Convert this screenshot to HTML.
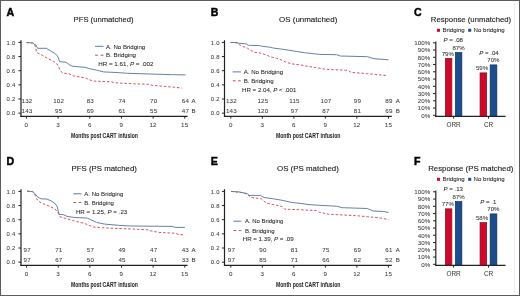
<!DOCTYPE html>
<html><head><meta charset="utf-8"><style>
html,body{margin:0;padding:0;background:#fff;}
.wrap{position:relative;width:520px;height:296px;overflow:hidden;background:#fff;}
svg{position:absolute;left:0;top:0;filter:blur(0.4px);}
text{stroke:#2a2a2a;stroke-width:0.06px;}
.ttl{stroke:#1a1a1a;stroke-width:0.12px;}
.plab{stroke:#000;stroke-width:0.45px;}
</style></head><body><div class="wrap">
<svg width="520" height="296" viewBox="0 0 520 296" font-family="Liberation Sans, sans-serif">
<rect x="0.5" y="0.5" width="519" height="295" fill="#fff" stroke="#5c5c5c" stroke-width="1"/>
<line x1="514.5" y1="1" x2="514.5" y2="295" stroke="#eeeeee" stroke-width="1"/>
<text x="6.5" y="15.6" font-size="10.6" text-anchor="start" font-weight="bold" fill="#000" class="plab">A</text>
<text x="73.6" y="22.0" font-size="8.1" text-anchor="start" font-weight="normal" fill="#1a1a1a" class="ttl" textLength="60" lengthAdjust="spacingAndGlyphs">PFS (unmatched)</text>
<line x1="21.0" y1="40.2" x2="21.0" y2="117.0" stroke="#222" stroke-width="1.2" />
<line x1="20.4" y1="116.3" x2="187.6" y2="116.3" stroke="#222" stroke-width="1.15" />
<line x1="18.4" y1="42.4" x2="21.0" y2="42.4" stroke="#222" stroke-width="1.0" />
<text x="15.7" y="44.5" font-size="5.9" text-anchor="end" font-weight="normal" fill="#444" letter-spacing="0.3">1.0</text>
<line x1="18.4" y1="56.55" x2="21.0" y2="56.55" stroke="#222" stroke-width="1.0" />
<text x="15.7" y="58.65" font-size="5.9" text-anchor="end" font-weight="normal" fill="#444" letter-spacing="0.3">0.8</text>
<line x1="18.4" y1="70.7" x2="21.0" y2="70.7" stroke="#222" stroke-width="1.0" />
<text x="15.7" y="72.8" font-size="5.9" text-anchor="end" font-weight="normal" fill="#444" letter-spacing="0.3">0.6</text>
<line x1="18.4" y1="84.85" x2="21.0" y2="84.85" stroke="#222" stroke-width="1.0" />
<text x="15.7" y="86.94999999999999" font-size="5.9" text-anchor="end" font-weight="normal" fill="#444" letter-spacing="0.3">0.4</text>
<line x1="18.4" y1="99.0" x2="21.0" y2="99.0" stroke="#222" stroke-width="1.0" />
<text x="15.7" y="101.1" font-size="5.9" text-anchor="end" font-weight="normal" fill="#444" letter-spacing="0.3">0.2</text>
<line x1="18.4" y1="113.15" x2="21.0" y2="113.15" stroke="#222" stroke-width="1.0" />
<text x="15.7" y="115.25" font-size="5.9" text-anchor="end" font-weight="normal" fill="#444" letter-spacing="0.3">0.0</text>
<line x1="26.4" y1="116.3" x2="26.4" y2="118.6" stroke="#222" stroke-width="1.0" />
<text x="26.4" y="126.8" font-size="6.2" text-anchor="middle" font-weight="normal" fill="#444" letter-spacing="0.3">0</text>
<line x1="58.08" y1="116.3" x2="58.08" y2="118.6" stroke="#222" stroke-width="1.0" />
<text x="58.08" y="126.8" font-size="6.2" text-anchor="middle" font-weight="normal" fill="#444" letter-spacing="0.3">3</text>
<line x1="89.75999999999999" y1="116.3" x2="89.75999999999999" y2="118.6" stroke="#222" stroke-width="1.0" />
<text x="89.75999999999999" y="126.8" font-size="6.2" text-anchor="middle" font-weight="normal" fill="#444" letter-spacing="0.3">6</text>
<line x1="121.44" y1="116.3" x2="121.44" y2="118.6" stroke="#222" stroke-width="1.0" />
<text x="121.44" y="126.8" font-size="6.2" text-anchor="middle" font-weight="normal" fill="#444" letter-spacing="0.3">9</text>
<line x1="153.12" y1="116.3" x2="153.12" y2="118.6" stroke="#222" stroke-width="1.0" />
<text x="153.12" y="126.8" font-size="6.2" text-anchor="middle" font-weight="normal" fill="#444" letter-spacing="0.3">12</text>
<line x1="184.8" y1="116.3" x2="184.8" y2="118.6" stroke="#222" stroke-width="1.0" />
<text x="184.8" y="126.8" font-size="6.2" text-anchor="middle" font-weight="normal" fill="#444" letter-spacing="0.3">15</text>
<text x="71" y="138.3" font-size="8.1" text-anchor="start" font-weight="bold" fill="#2a2a2a" textLength="66.9" lengthAdjust="spacingAndGlyphs">Months post CART infusion</text>
<text x="27.0" y="103.2" font-size="6.2" text-anchor="middle" font-weight="normal" fill="#444" letter-spacing="0.2">132</text>
<text x="58.68" y="103.2" font-size="6.2" text-anchor="middle" font-weight="normal" fill="#444" letter-spacing="0.2">102</text>
<text x="90.35999999999999" y="103.2" font-size="6.2" text-anchor="middle" font-weight="normal" fill="#444" letter-spacing="0.2">83</text>
<text x="122.03999999999999" y="103.2" font-size="6.2" text-anchor="middle" font-weight="normal" fill="#444" letter-spacing="0.2">74</text>
<text x="153.72" y="103.2" font-size="6.2" text-anchor="middle" font-weight="normal" fill="#444" letter-spacing="0.2">70</text>
<text x="185.4" y="103.2" font-size="6.2" text-anchor="middle" font-weight="normal" fill="#444" letter-spacing="0.2">64</text>
<text x="191.5" y="103.2" font-size="6" text-anchor="start" font-weight="normal" fill="#333" >A</text>
<text x="27.0" y="113.2" font-size="6.2" text-anchor="middle" font-weight="normal" fill="#444" letter-spacing="0.2">143</text>
<text x="58.68" y="113.2" font-size="6.2" text-anchor="middle" font-weight="normal" fill="#444" letter-spacing="0.2">95</text>
<text x="90.35999999999999" y="113.2" font-size="6.2" text-anchor="middle" font-weight="normal" fill="#444" letter-spacing="0.2">69</text>
<text x="122.03999999999999" y="113.2" font-size="6.2" text-anchor="middle" font-weight="normal" fill="#444" letter-spacing="0.2">61</text>
<text x="153.72" y="113.2" font-size="6.2" text-anchor="middle" font-weight="normal" fill="#444" letter-spacing="0.2">55</text>
<text x="185.4" y="113.2" font-size="6.2" text-anchor="middle" font-weight="normal" fill="#444" letter-spacing="0.2">47</text>
<text x="191.5" y="113.2" font-size="6" text-anchor="start" font-weight="normal" fill="#333" >B</text>
<line x1="95.1" y1="46.3" x2="103.5" y2="46.3" stroke="#5d7b9c" stroke-width="1.0" />
<text x="106.0" y="48.5" font-size="6.2" text-anchor="start" font-weight="normal" fill="#262626" textLength="39.2" lengthAdjust="spacingAndGlyphs">A. No Bridging</text>
<line x1="95.1" y1="55.2" x2="103.5" y2="55.2" stroke="#cc4d5e" stroke-width="1.0" stroke-dasharray="3,2.4"/>
<text x="106.0" y="57.2" font-size="6.2" text-anchor="start" font-weight="normal" fill="#262626" textLength="30.0" lengthAdjust="spacingAndGlyphs">B. Bridging</text>
<text x="98.2" y="66.0" font-size="6.2" fill="#262626" textLength="55.2" lengthAdjust="spacingAndGlyphs"><tspan>HR = 1.61, </tspan><tspan font-style="italic">P</tspan><tspan> = .002</tspan></text>
<path d="M26.5,42.6 L32.6,42.9 L34.6,44.5 L35.8,48.0 L36.6,52.5 L42.2,55.2 L47.3,58.3 L53.4,61.3 L56.9,63.8 L58.5,66.5 L60.6,71.2 L63.1,73.1 L69.2,73.8 L73.3,75.8 L80.4,77.1 L85.4,77.8 L89.5,79.8 L93.5,81.1 L110.1,81.7 L115.2,82.7 L123.3,83.3 L134.5,83.8 L148.7,84.3 L152.1,85.3 L165.3,86.5 L175.4,87.3 L182.0,88.1" fill="none" stroke="#cc4d5e" stroke-width="0.95" stroke-linejoin="round" stroke-dasharray="2.6,1.8"/>
<path d="M26.5,42.6 L32.8,42.9 L34.2,44.2 L36.2,45.3 L37.6,48.3 L46.3,48.3 L50.3,50.7 L54.4,53.2 L57.4,55.7 L58.3,58.0 L59.6,61.6 L66.2,62.3 L69.2,64.6 L72.2,66.2 L85.4,67.4 L89.5,68.7 L97.6,70.4 L103.7,71.9 L118.3,72.6 L127.4,73.3 L153.1,74.1 L172.4,74.7 L185.6,74.9" fill="none" stroke="#5d7b9c" stroke-width="0.95" stroke-linejoin="round"/>
<text x="210.7" y="15.6" font-size="10.6" text-anchor="start" font-weight="bold" fill="#000" class="plab">B</text>
<text x="279.1" y="22.0" font-size="8.1" text-anchor="start" font-weight="normal" fill="#1a1a1a" class="ttl" textLength="58.2" lengthAdjust="spacingAndGlyphs">OS (unmatched)</text>
<line x1="224.5" y1="40.2" x2="224.5" y2="117.0" stroke="#222" stroke-width="1.2" />
<line x1="223.9" y1="116.3" x2="391.79999999999995" y2="116.3" stroke="#222" stroke-width="1.15" />
<line x1="221.9" y1="42.4" x2="224.5" y2="42.4" stroke="#222" stroke-width="1.0" />
<text x="219.89999999999998" y="44.5" font-size="5.9" text-anchor="end" font-weight="normal" fill="#444" letter-spacing="0.3">1.0</text>
<line x1="221.9" y1="56.55" x2="224.5" y2="56.55" stroke="#222" stroke-width="1.0" />
<text x="219.89999999999998" y="58.65" font-size="5.9" text-anchor="end" font-weight="normal" fill="#444" letter-spacing="0.3">0.8</text>
<line x1="221.9" y1="70.7" x2="224.5" y2="70.7" stroke="#222" stroke-width="1.0" />
<text x="219.89999999999998" y="72.8" font-size="5.9" text-anchor="end" font-weight="normal" fill="#444" letter-spacing="0.3">0.6</text>
<line x1="221.9" y1="84.85" x2="224.5" y2="84.85" stroke="#222" stroke-width="1.0" />
<text x="219.89999999999998" y="86.94999999999999" font-size="5.9" text-anchor="end" font-weight="normal" fill="#444" letter-spacing="0.3">0.4</text>
<line x1="221.9" y1="99.0" x2="224.5" y2="99.0" stroke="#222" stroke-width="1.0" />
<text x="219.89999999999998" y="101.1" font-size="5.9" text-anchor="end" font-weight="normal" fill="#444" letter-spacing="0.3">0.2</text>
<line x1="221.9" y1="113.15" x2="224.5" y2="113.15" stroke="#222" stroke-width="1.0" />
<text x="219.89999999999998" y="115.25" font-size="5.9" text-anchor="end" font-weight="normal" fill="#444" letter-spacing="0.3">0.0</text>
<line x1="230.8" y1="116.3" x2="230.8" y2="118.6" stroke="#222" stroke-width="1.0" />
<text x="230.8" y="126.8" font-size="6.2" text-anchor="middle" font-weight="normal" fill="#444" letter-spacing="0.3">0</text>
<line x1="262.32" y1="116.3" x2="262.32" y2="118.6" stroke="#222" stroke-width="1.0" />
<text x="262.32" y="126.8" font-size="6.2" text-anchor="middle" font-weight="normal" fill="#444" letter-spacing="0.3">3</text>
<line x1="293.84000000000003" y1="116.3" x2="293.84000000000003" y2="118.6" stroke="#222" stroke-width="1.0" />
<text x="293.84000000000003" y="126.8" font-size="6.2" text-anchor="middle" font-weight="normal" fill="#444" letter-spacing="0.3">6</text>
<line x1="325.36" y1="116.3" x2="325.36" y2="118.6" stroke="#222" stroke-width="1.0" />
<text x="325.36" y="126.8" font-size="6.2" text-anchor="middle" font-weight="normal" fill="#444" letter-spacing="0.3">9</text>
<line x1="356.88" y1="116.3" x2="356.88" y2="118.6" stroke="#222" stroke-width="1.0" />
<text x="356.88" y="126.8" font-size="6.2" text-anchor="middle" font-weight="normal" fill="#444" letter-spacing="0.3">12</text>
<line x1="388.4" y1="116.3" x2="388.4" y2="118.6" stroke="#222" stroke-width="1.0" />
<text x="388.4" y="126.8" font-size="6.2" text-anchor="middle" font-weight="normal" fill="#444" letter-spacing="0.3">15</text>
<text x="275.9" y="138.3" font-size="8.1" text-anchor="start" font-weight="bold" fill="#2a2a2a" textLength="64.5" lengthAdjust="spacingAndGlyphs">Month post CART infusion</text>
<text x="231.4" y="103.2" font-size="6.2" text-anchor="middle" font-weight="normal" fill="#444" letter-spacing="0.2">132</text>
<text x="262.92" y="103.2" font-size="6.2" text-anchor="middle" font-weight="normal" fill="#444" letter-spacing="0.2">125</text>
<text x="294.44000000000005" y="103.2" font-size="6.2" text-anchor="middle" font-weight="normal" fill="#444" letter-spacing="0.2">115</text>
<text x="325.96000000000004" y="103.2" font-size="6.2" text-anchor="middle" font-weight="normal" fill="#444" letter-spacing="0.2">107</text>
<text x="357.48" y="103.2" font-size="6.2" text-anchor="middle" font-weight="normal" fill="#444" letter-spacing="0.2">99</text>
<text x="389.0" y="103.2" font-size="6.2" text-anchor="middle" font-weight="normal" fill="#444" letter-spacing="0.2">89</text>
<text x="395.7" y="103.2" font-size="6" text-anchor="start" font-weight="normal" fill="#333" >A</text>
<text x="231.4" y="113.2" font-size="6.2" text-anchor="middle" font-weight="normal" fill="#444" letter-spacing="0.2">143</text>
<text x="262.92" y="113.2" font-size="6.2" text-anchor="middle" font-weight="normal" fill="#444" letter-spacing="0.2">120</text>
<text x="294.44000000000005" y="113.2" font-size="6.2" text-anchor="middle" font-weight="normal" fill="#444" letter-spacing="0.2">97</text>
<text x="325.96000000000004" y="113.2" font-size="6.2" text-anchor="middle" font-weight="normal" fill="#444" letter-spacing="0.2">87</text>
<text x="357.48" y="113.2" font-size="6.2" text-anchor="middle" font-weight="normal" fill="#444" letter-spacing="0.2">81</text>
<text x="389.0" y="113.2" font-size="6.2" text-anchor="middle" font-weight="normal" fill="#444" letter-spacing="0.2">69</text>
<text x="395.7" y="113.2" font-size="6" text-anchor="start" font-weight="normal" fill="#333" >B</text>
<line x1="232.7" y1="71.89999999999999" x2="240.8" y2="71.89999999999999" stroke="#5d7b9c" stroke-width="1.0" />
<text x="243.7" y="74.1" font-size="6.2" text-anchor="start" font-weight="normal" fill="#262626" textLength="39.4" lengthAdjust="spacingAndGlyphs">A. No Bridging</text>
<line x1="232.7" y1="80.8" x2="240.8" y2="80.8" stroke="#cc4d5e" stroke-width="1.0" stroke-dasharray="3,2.4"/>
<text x="243.7" y="82.8" font-size="6.2" text-anchor="start" font-weight="normal" fill="#262626" textLength="30.0" lengthAdjust="spacingAndGlyphs">B. Bridging</text>
<text x="242.0" y="91.6" font-size="6.2" fill="#262626" textLength="54.4" lengthAdjust="spacingAndGlyphs"><tspan>HR = 2.04, </tspan><tspan font-style="italic">P</tspan><tspan> &lt; .001</tspan></text>
<path d="M230.5,42.4 L237.1,42.9 L239.2,44.6 L243.2,46.6 L247.3,48.1 L250.3,50.2 L254.4,52.2 L258.4,52.7 L262.5,53.7 L266.5,55.2 L270.6,56.8 L276.7,58.3 L281.1,59.8 L285.1,61.8 L291.2,63.8 L299.3,64.8 L309.5,66.6 L317.6,67.9 L325.0,69.2 L348.0,70.4 L351.0,72.3 L367.3,73.7 L387.5,75.6" fill="none" stroke="#cc4d5e" stroke-width="0.95" stroke-linejoin="round" stroke-dasharray="2.6,1.8"/>
<path d="M230.5,42.4 L237.1,42.5 L238.1,43.1 L246.3,43.9 L248.3,45.3 L259.4,45.6 L262.5,46.3 L270.6,47.3 L273.6,48.1 L280.1,48.9 L288.2,50.1 L296.3,51.4 L304.4,52.7 L313.5,53.7 L319.6,54.4 L336.5,54.7 L340.4,56.0 L367.3,56.7 L374.0,58.7 L388.5,59.8" fill="none" stroke="#5d7b9c" stroke-width="0.95" stroke-linejoin="round"/>
<text x="6.5" y="164.6" font-size="10.6" text-anchor="start" font-weight="bold" fill="#000" class="plab">D</text>
<text x="71.6" y="171.0" font-size="8.1" text-anchor="start" font-weight="normal" fill="#1a1a1a" class="ttl" textLength="65.3" lengthAdjust="spacingAndGlyphs">PFS (PS matched)</text>
<line x1="21.0" y1="189.2" x2="21.0" y2="266.0" stroke="#222" stroke-width="1.2" />
<line x1="20.4" y1="265.3" x2="187.6" y2="265.3" stroke="#222" stroke-width="1.15" />
<line x1="18.4" y1="191.4" x2="21.0" y2="191.4" stroke="#222" stroke-width="1.0" />
<text x="15.7" y="193.5" font-size="5.9" text-anchor="end" font-weight="normal" fill="#444" letter-spacing="0.3">1.0</text>
<line x1="18.4" y1="205.55" x2="21.0" y2="205.55" stroke="#222" stroke-width="1.0" />
<text x="15.7" y="207.65" font-size="5.9" text-anchor="end" font-weight="normal" fill="#444" letter-spacing="0.3">0.8</text>
<line x1="18.4" y1="219.70000000000002" x2="21.0" y2="219.70000000000002" stroke="#222" stroke-width="1.0" />
<text x="15.7" y="221.8" font-size="5.9" text-anchor="end" font-weight="normal" fill="#444" letter-spacing="0.3">0.6</text>
<line x1="18.4" y1="233.85000000000002" x2="21.0" y2="233.85000000000002" stroke="#222" stroke-width="1.0" />
<text x="15.7" y="235.95000000000002" font-size="5.9" text-anchor="end" font-weight="normal" fill="#444" letter-spacing="0.3">0.4</text>
<line x1="18.4" y1="248.0" x2="21.0" y2="248.0" stroke="#222" stroke-width="1.0" />
<text x="15.7" y="250.1" font-size="5.9" text-anchor="end" font-weight="normal" fill="#444" letter-spacing="0.3">0.2</text>
<line x1="18.4" y1="262.15" x2="21.0" y2="262.15" stroke="#222" stroke-width="1.0" />
<text x="15.7" y="264.25" font-size="5.9" text-anchor="end" font-weight="normal" fill="#444" letter-spacing="0.3">0.0</text>
<line x1="26.6" y1="265.3" x2="26.6" y2="267.6" stroke="#222" stroke-width="1.0" />
<text x="26.6" y="275.8" font-size="6.2" text-anchor="middle" font-weight="normal" fill="#444" letter-spacing="0.3">0</text>
<line x1="58.230000000000004" y1="265.3" x2="58.230000000000004" y2="267.6" stroke="#222" stroke-width="1.0" />
<text x="58.230000000000004" y="275.8" font-size="6.2" text-anchor="middle" font-weight="normal" fill="#444" letter-spacing="0.3">3</text>
<line x1="89.86" y1="265.3" x2="89.86" y2="267.6" stroke="#222" stroke-width="1.0" />
<text x="89.86" y="275.8" font-size="6.2" text-anchor="middle" font-weight="normal" fill="#444" letter-spacing="0.3">6</text>
<line x1="121.49000000000001" y1="265.3" x2="121.49000000000001" y2="267.6" stroke="#222" stroke-width="1.0" />
<text x="121.49000000000001" y="275.8" font-size="6.2" text-anchor="middle" font-weight="normal" fill="#444" letter-spacing="0.3">9</text>
<line x1="153.12" y1="265.3" x2="153.12" y2="267.6" stroke="#222" stroke-width="1.0" />
<text x="153.12" y="275.8" font-size="6.2" text-anchor="middle" font-weight="normal" fill="#444" letter-spacing="0.3">12</text>
<line x1="184.75" y1="265.3" x2="184.75" y2="267.6" stroke="#222" stroke-width="1.0" />
<text x="184.75" y="275.8" font-size="6.2" text-anchor="middle" font-weight="normal" fill="#444" letter-spacing="0.3">15</text>
<text x="71" y="287.3" font-size="8.1" text-anchor="start" font-weight="bold" fill="#2a2a2a" textLength="66.9" lengthAdjust="spacingAndGlyphs">Months post CART infusion</text>
<text x="27.200000000000003" y="252.2" font-size="6.2" text-anchor="middle" font-weight="normal" fill="#444" letter-spacing="0.2">97</text>
<text x="58.830000000000005" y="252.2" font-size="6.2" text-anchor="middle" font-weight="normal" fill="#444" letter-spacing="0.2">71</text>
<text x="90.46" y="252.2" font-size="6.2" text-anchor="middle" font-weight="normal" fill="#444" letter-spacing="0.2">57</text>
<text x="122.09" y="252.2" font-size="6.2" text-anchor="middle" font-weight="normal" fill="#444" letter-spacing="0.2">49</text>
<text x="153.72" y="252.2" font-size="6.2" text-anchor="middle" font-weight="normal" fill="#444" letter-spacing="0.2">47</text>
<text x="185.35" y="252.2" font-size="6.2" text-anchor="middle" font-weight="normal" fill="#444" letter-spacing="0.2">43</text>
<text x="191.5" y="252.2" font-size="6" text-anchor="start" font-weight="normal" fill="#333" >A</text>
<text x="27.200000000000003" y="262.2" font-size="6.2" text-anchor="middle" font-weight="normal" fill="#444" letter-spacing="0.2">97</text>
<text x="58.830000000000005" y="262.2" font-size="6.2" text-anchor="middle" font-weight="normal" fill="#444" letter-spacing="0.2">67</text>
<text x="90.46" y="262.2" font-size="6.2" text-anchor="middle" font-weight="normal" fill="#444" letter-spacing="0.2">50</text>
<text x="122.09" y="262.2" font-size="6.2" text-anchor="middle" font-weight="normal" fill="#444" letter-spacing="0.2">45</text>
<text x="153.72" y="262.2" font-size="6.2" text-anchor="middle" font-weight="normal" fill="#444" letter-spacing="0.2">41</text>
<text x="185.35" y="262.2" font-size="6.2" text-anchor="middle" font-weight="normal" fill="#444" letter-spacing="0.2">33</text>
<text x="191.5" y="262.2" font-size="6" text-anchor="start" font-weight="normal" fill="#333" >B</text>
<line x1="73.3" y1="193.8" x2="81.4" y2="193.8" stroke="#5d7b9c" stroke-width="1.0" />
<text x="84.3" y="196.0" font-size="6.2" text-anchor="start" font-weight="normal" fill="#262626" textLength="39.0" lengthAdjust="spacingAndGlyphs">A. No Bridging</text>
<line x1="73.3" y1="202.5" x2="81.4" y2="202.5" stroke="#cc4d5e" stroke-width="1.0" stroke-dasharray="3,2.4"/>
<text x="84.3" y="204.5" font-size="6.2" text-anchor="start" font-weight="normal" fill="#262626" textLength="29.6" lengthAdjust="spacingAndGlyphs">B. Bridging</text>
<text x="75.9" y="213.5" font-size="6.2" fill="#262626" textLength="51.4" lengthAdjust="spacingAndGlyphs"><tspan>HR = 1.25, </tspan><tspan font-style="italic">P</tspan><tspan> = .23</tspan></text>
<path d="M27.0,191.1 L32.8,191.7 L34.1,193.4 L37.5,200.2 L41.6,203.3 L48.3,205.6 L55.1,209.0 L57.8,212.4 L60.5,217.1 L65.9,218.4 L73.3,220.6 L85.0,223.6 L93.1,227.0 L109.2,228.2 L130.0,228.9 L147.9,229.8 L151.9,231.2 L160.0,232.5 L174.8,233.2 L178.8,234.5 L184.2,234.9" fill="none" stroke="#cc4d5e" stroke-width="0.95" stroke-linejoin="round" stroke-dasharray="2.6,1.8"/>
<path d="M27.0,191.1 L32.8,191.7 L34.8,193.4 L37.5,196.8 L40.9,198.8 L47.0,199.1 L51.0,200.9 L54.4,202.9 L57.1,206.3 L59.1,214.4 L63.2,214.6 L67.2,216.4 L74.0,217.4 L87.3,218.1 L96.5,222.4 L104.6,224.1 L118.4,225.3 L130.0,226.0 L172.1,226.4 L175.5,227.4 L184.9,227.4" fill="none" stroke="#5d7b9c" stroke-width="0.95" stroke-linejoin="round"/>
<text x="210.7" y="164.6" font-size="10.6" text-anchor="start" font-weight="bold" fill="#000" class="plab">E</text>
<text x="277" y="171.0" font-size="8.1" text-anchor="start" font-weight="normal" fill="#1a1a1a" class="ttl" textLength="61.9" lengthAdjust="spacingAndGlyphs">OS (PS matched)</text>
<line x1="224.5" y1="189.2" x2="224.5" y2="266.0" stroke="#222" stroke-width="1.2" />
<line x1="223.9" y1="265.3" x2="391.79999999999995" y2="265.3" stroke="#222" stroke-width="1.15" />
<line x1="221.9" y1="191.4" x2="224.5" y2="191.4" stroke="#222" stroke-width="1.0" />
<text x="219.89999999999998" y="193.5" font-size="5.9" text-anchor="end" font-weight="normal" fill="#444" letter-spacing="0.3">1.0</text>
<line x1="221.9" y1="205.55" x2="224.5" y2="205.55" stroke="#222" stroke-width="1.0" />
<text x="219.89999999999998" y="207.65" font-size="5.9" text-anchor="end" font-weight="normal" fill="#444" letter-spacing="0.3">0.8</text>
<line x1="221.9" y1="219.70000000000002" x2="224.5" y2="219.70000000000002" stroke="#222" stroke-width="1.0" />
<text x="219.89999999999998" y="221.8" font-size="5.9" text-anchor="end" font-weight="normal" fill="#444" letter-spacing="0.3">0.6</text>
<line x1="221.9" y1="233.85000000000002" x2="224.5" y2="233.85000000000002" stroke="#222" stroke-width="1.0" />
<text x="219.89999999999998" y="235.95000000000002" font-size="5.9" text-anchor="end" font-weight="normal" fill="#444" letter-spacing="0.3">0.4</text>
<line x1="221.9" y1="248.0" x2="224.5" y2="248.0" stroke="#222" stroke-width="1.0" />
<text x="219.89999999999998" y="250.1" font-size="5.9" text-anchor="end" font-weight="normal" fill="#444" letter-spacing="0.3">0.2</text>
<line x1="221.9" y1="262.15" x2="224.5" y2="262.15" stroke="#222" stroke-width="1.0" />
<text x="219.89999999999998" y="264.25" font-size="5.9" text-anchor="end" font-weight="normal" fill="#444" letter-spacing="0.3">0.0</text>
<line x1="230.8" y1="265.3" x2="230.8" y2="267.6" stroke="#222" stroke-width="1.0" />
<text x="230.8" y="275.8" font-size="6.2" text-anchor="middle" font-weight="normal" fill="#444" letter-spacing="0.3">0</text>
<line x1="262.32" y1="265.3" x2="262.32" y2="267.6" stroke="#222" stroke-width="1.0" />
<text x="262.32" y="275.8" font-size="6.2" text-anchor="middle" font-weight="normal" fill="#444" letter-spacing="0.3">3</text>
<line x1="293.84000000000003" y1="265.3" x2="293.84000000000003" y2="267.6" stroke="#222" stroke-width="1.0" />
<text x="293.84000000000003" y="275.8" font-size="6.2" text-anchor="middle" font-weight="normal" fill="#444" letter-spacing="0.3">6</text>
<line x1="325.36" y1="265.3" x2="325.36" y2="267.6" stroke="#222" stroke-width="1.0" />
<text x="325.36" y="275.8" font-size="6.2" text-anchor="middle" font-weight="normal" fill="#444" letter-spacing="0.3">9</text>
<line x1="356.88" y1="265.3" x2="356.88" y2="267.6" stroke="#222" stroke-width="1.0" />
<text x="356.88" y="275.8" font-size="6.2" text-anchor="middle" font-weight="normal" fill="#444" letter-spacing="0.3">12</text>
<line x1="388.4" y1="265.3" x2="388.4" y2="267.6" stroke="#222" stroke-width="1.0" />
<text x="388.4" y="275.8" font-size="6.2" text-anchor="middle" font-weight="normal" fill="#444" letter-spacing="0.3">15</text>
<text x="275.9" y="287.3" font-size="8.1" text-anchor="start" font-weight="bold" fill="#2a2a2a" textLength="64.5" lengthAdjust="spacingAndGlyphs">Month post CART infusion</text>
<text x="231.4" y="252.2" font-size="6.2" text-anchor="middle" font-weight="normal" fill="#444" letter-spacing="0.2">97</text>
<text x="262.92" y="252.2" font-size="6.2" text-anchor="middle" font-weight="normal" fill="#444" letter-spacing="0.2">90</text>
<text x="294.44000000000005" y="252.2" font-size="6.2" text-anchor="middle" font-weight="normal" fill="#444" letter-spacing="0.2">81</text>
<text x="325.96000000000004" y="252.2" font-size="6.2" text-anchor="middle" font-weight="normal" fill="#444" letter-spacing="0.2">75</text>
<text x="357.48" y="252.2" font-size="6.2" text-anchor="middle" font-weight="normal" fill="#444" letter-spacing="0.2">69</text>
<text x="389.0" y="252.2" font-size="6.2" text-anchor="middle" font-weight="normal" fill="#444" letter-spacing="0.2">61</text>
<text x="395.7" y="252.2" font-size="6" text-anchor="start" font-weight="normal" fill="#333" >A</text>
<text x="231.4" y="262.2" font-size="6.2" text-anchor="middle" font-weight="normal" fill="#444" letter-spacing="0.2">97</text>
<text x="262.92" y="262.2" font-size="6.2" text-anchor="middle" font-weight="normal" fill="#444" letter-spacing="0.2">85</text>
<text x="294.44000000000005" y="262.2" font-size="6.2" text-anchor="middle" font-weight="normal" fill="#444" letter-spacing="0.2">71</text>
<text x="325.96000000000004" y="262.2" font-size="6.2" text-anchor="middle" font-weight="normal" fill="#444" letter-spacing="0.2">66</text>
<text x="357.48" y="262.2" font-size="6.2" text-anchor="middle" font-weight="normal" fill="#444" letter-spacing="0.2">62</text>
<text x="389.0" y="262.2" font-size="6.2" text-anchor="middle" font-weight="normal" fill="#444" letter-spacing="0.2">52</text>
<text x="395.7" y="262.2" font-size="6" text-anchor="start" font-weight="normal" fill="#333" >B</text>
<line x1="233.4" y1="221.20000000000002" x2="241.4" y2="221.20000000000002" stroke="#5d7b9c" stroke-width="1.0" />
<text x="244.9" y="223.4" font-size="6.2" text-anchor="start" font-weight="normal" fill="#262626" textLength="38.5" lengthAdjust="spacingAndGlyphs">A. No Bridging</text>
<line x1="233.4" y1="230.6" x2="241.4" y2="230.6" stroke="#cc4d5e" stroke-width="1.0" stroke-dasharray="3,2.4"/>
<text x="244.9" y="232.6" font-size="6.2" text-anchor="start" font-weight="normal" fill="#262626" textLength="29.7" lengthAdjust="spacingAndGlyphs">B. Bridging</text>
<text x="242.7" y="240.6" font-size="6.2" fill="#262626" textLength="51.0" lengthAdjust="spacingAndGlyphs"><tspan>HR = 1.39, </tspan><tspan font-style="italic">P</tspan><tspan> = .09</tspan></text>
<path d="M231.0,191.4 L244.0,192.8 L247.5,194.5 L251.0,197.5 L261.3,198.8 L266.5,203.2 L276.9,205.4 L282.1,206.6 L284.7,209.2 L299.4,209.7 L316.3,210.6 L319.2,212.3 L328.8,214.2 L357.7,215.8 L367.3,216.7 L380.8,218.0 L388.5,219.6" fill="none" stroke="#cc4d5e" stroke-width="0.95" stroke-linejoin="round" stroke-dasharray="2.6,1.8"/>
<path d="M231.0,191.4 L238.8,191.9 L247.5,193.7 L249.2,195.4 L260.5,195.4 L264.0,197.5 L273.4,198.8 L283.8,200.6 L290.7,202.3 L302.9,203.7 L308.0,204.5 L317.3,205.2 L336.5,206.2 L342.3,207.7 L367.3,208.5 L373.0,211.0 L383.7,211.5 L388.5,212.5" fill="none" stroke="#5d7b9c" stroke-width="0.95" stroke-linejoin="round"/>
<text x="414.0" y="15.5" font-size="10.6" text-anchor="start" font-weight="bold" fill="#000" class="plab">C</text>
<text x="430.8" y="22.1" font-size="8.0" text-anchor="start" font-weight="normal" fill="#1a1a1a" class="ttl" textLength="80.39999999999998" lengthAdjust="spacingAndGlyphs">Response (unmatched)</text>
<rect x="437" y="28.8" width="3" height="3" fill="#cc0a2c"/>
<text x="442.4" y="32.2" font-size="6.1" text-anchor="start" font-weight="normal" fill="#262626" >Bridging</text>
<rect x="468.2" y="28.8" width="3" height="3" fill="#1c4e8e"/>
<text x="473.6" y="32.2" font-size="6.1" text-anchor="start" font-weight="normal" fill="#262626" >No bridging</text>
<line x1="435.8" y1="41.6" x2="435.8" y2="116.9" stroke="#222" stroke-width="1.2" />
<line x1="435.2" y1="116.4" x2="505.6" y2="116.4" stroke="#222" stroke-width="1.1" />
<line x1="433.0" y1="115.3" x2="435.8" y2="115.3" stroke="#222" stroke-width="1.0" />
<text x="430.40000000000003" y="117.5" font-size="6.2" text-anchor="end" font-weight="normal" fill="#4a4a4a" letter-spacing="0.1">0%</text>
<line x1="433.0" y1="108.05" x2="435.8" y2="108.05" stroke="#222" stroke-width="1.0" />
<text x="430.40000000000003" y="110.25" font-size="6.2" text-anchor="end" font-weight="normal" fill="#4a4a4a" letter-spacing="0.1">10%</text>
<line x1="433.0" y1="100.8" x2="435.8" y2="100.8" stroke="#222" stroke-width="1.0" />
<text x="430.40000000000003" y="103.0" font-size="6.2" text-anchor="end" font-weight="normal" fill="#4a4a4a" letter-spacing="0.1">20%</text>
<line x1="433.0" y1="93.55" x2="435.8" y2="93.55" stroke="#222" stroke-width="1.0" />
<text x="430.40000000000003" y="95.75" font-size="6.2" text-anchor="end" font-weight="normal" fill="#4a4a4a" letter-spacing="0.1">30%</text>
<line x1="433.0" y1="86.3" x2="435.8" y2="86.3" stroke="#222" stroke-width="1.0" />
<text x="430.40000000000003" y="88.5" font-size="6.2" text-anchor="end" font-weight="normal" fill="#4a4a4a" letter-spacing="0.1">40%</text>
<line x1="433.0" y1="79.05" x2="435.8" y2="79.05" stroke="#222" stroke-width="1.0" />
<text x="430.40000000000003" y="81.25" font-size="6.2" text-anchor="end" font-weight="normal" fill="#4a4a4a" letter-spacing="0.1">50%</text>
<line x1="433.0" y1="71.8" x2="435.8" y2="71.8" stroke="#222" stroke-width="1.0" />
<text x="430.40000000000003" y="74.0" font-size="6.2" text-anchor="end" font-weight="normal" fill="#4a4a4a" letter-spacing="0.1">60%</text>
<line x1="433.0" y1="64.55" x2="435.8" y2="64.55" stroke="#222" stroke-width="1.0" />
<text x="430.40000000000003" y="66.75" font-size="6.2" text-anchor="end" font-weight="normal" fill="#4a4a4a" letter-spacing="0.1">70%</text>
<line x1="433.0" y1="57.3" x2="435.8" y2="57.3" stroke="#222" stroke-width="1.0" />
<text x="430.40000000000003" y="59.5" font-size="6.2" text-anchor="end" font-weight="normal" fill="#4a4a4a" letter-spacing="0.1">80%</text>
<line x1="433.0" y1="50.05" x2="435.8" y2="50.05" stroke="#222" stroke-width="1.0" />
<text x="430.40000000000003" y="52.25" font-size="6.2" text-anchor="end" font-weight="normal" fill="#4a4a4a" letter-spacing="0.1">90%</text>
<line x1="433.0" y1="42.8" x2="435.8" y2="42.8" stroke="#222" stroke-width="1.0" />
<text x="430.40000000000003" y="45.0" font-size="6.2" text-anchor="end" font-weight="normal" fill="#4a4a4a" letter-spacing="0.1">100%</text>
<rect x="445.35" y="58.38" width="6.50" height="57.62" fill="#cc0a2c" stroke="#8e0a22" stroke-width="0.7"/>
<rect x="455.35" y="52.58" width="6.50" height="63.42" fill="#1c4e8e" stroke="#0f315e" stroke-width="0.7"/>
<rect x="480.05" y="72.88" width="6.60" height="43.12" fill="#cc0a2c" stroke="#8e0a22" stroke-width="0.7"/>
<rect x="490.15" y="64.90" width="6.70" height="51.10" fill="#1c4e8e" stroke="#0f315e" stroke-width="0.7"/>
<text x="447.8" y="55.824999999999996" font-size="6.1" text-anchor="middle" font-weight="normal" fill="#3c3c3c" >79%</text>
<text x="458.5" y="50.025" font-size="6.1" text-anchor="middle" font-weight="normal" fill="#3c3c3c" >87%</text>
<text x="482.1" y="70.325" font-size="6.1" text-anchor="middle" font-weight="normal" fill="#3c3c3c" >59%</text>
<text x="493.4" y="62.349999999999994" font-size="6.1" text-anchor="middle" font-weight="normal" fill="#3c3c3c" >70%</text>
<text x="443.5" y="41.7" font-size="6.1" fill="#262626"><tspan font-style="italic">P</tspan> = .08</text>
<text x="479.2" y="54.8" font-size="6.1" fill="#262626"><tspan font-style="italic">P</tspan> = .04</text>
<line x1="453.6" y1="116.4" x2="453.6" y2="118.6" stroke="#222" stroke-width="1.0" />
<text x="453.6" y="127.4" font-size="6.4" text-anchor="middle" font-weight="normal" fill="#444" >ORR</text>
<line x1="488.5" y1="116.4" x2="488.5" y2="118.6" stroke="#222" stroke-width="1.0" />
<text x="488.5" y="127.4" font-size="6.4" text-anchor="middle" font-weight="normal" fill="#444" >CR</text>
<text x="413.9" y="164.5" font-size="10.6" text-anchor="start" font-weight="bold" fill="#000" class="plab">F</text>
<text x="428.2" y="171.1" font-size="8.0" text-anchor="start" font-weight="normal" fill="#1a1a1a" class="ttl" textLength="85.19999999999999" lengthAdjust="spacingAndGlyphs">Response (PS matched)</text>
<rect x="437" y="177.8" width="3" height="3" fill="#cc0a2c"/>
<text x="442.4" y="181.2" font-size="6.1" text-anchor="start" font-weight="normal" fill="#262626" >Bridging</text>
<rect x="468.2" y="177.8" width="3" height="3" fill="#1c4e8e"/>
<text x="473.6" y="181.2" font-size="6.1" text-anchor="start" font-weight="normal" fill="#262626" >No bridging</text>
<line x1="435.8" y1="190.6" x2="435.8" y2="265.9" stroke="#222" stroke-width="1.2" />
<line x1="435.2" y1="265.4" x2="505.6" y2="265.4" stroke="#222" stroke-width="1.1" />
<line x1="433.0" y1="264.3" x2="435.8" y2="264.3" stroke="#222" stroke-width="1.0" />
<text x="430.40000000000003" y="266.5" font-size="6.2" text-anchor="end" font-weight="normal" fill="#4a4a4a" letter-spacing="0.1">0%</text>
<line x1="433.0" y1="257.05" x2="435.8" y2="257.05" stroke="#222" stroke-width="1.0" />
<text x="430.40000000000003" y="259.25" font-size="6.2" text-anchor="end" font-weight="normal" fill="#4a4a4a" letter-spacing="0.1">10%</text>
<line x1="433.0" y1="249.8" x2="435.8" y2="249.8" stroke="#222" stroke-width="1.0" />
<text x="430.40000000000003" y="252.0" font-size="6.2" text-anchor="end" font-weight="normal" fill="#4a4a4a" letter-spacing="0.1">20%</text>
<line x1="433.0" y1="242.55" x2="435.8" y2="242.55" stroke="#222" stroke-width="1.0" />
<text x="430.40000000000003" y="244.75" font-size="6.2" text-anchor="end" font-weight="normal" fill="#4a4a4a" letter-spacing="0.1">30%</text>
<line x1="433.0" y1="235.3" x2="435.8" y2="235.3" stroke="#222" stroke-width="1.0" />
<text x="430.40000000000003" y="237.5" font-size="6.2" text-anchor="end" font-weight="normal" fill="#4a4a4a" letter-spacing="0.1">40%</text>
<line x1="433.0" y1="228.05" x2="435.8" y2="228.05" stroke="#222" stroke-width="1.0" />
<text x="430.40000000000003" y="230.25" font-size="6.2" text-anchor="end" font-weight="normal" fill="#4a4a4a" letter-spacing="0.1">50%</text>
<line x1="433.0" y1="220.8" x2="435.8" y2="220.8" stroke="#222" stroke-width="1.0" />
<text x="430.40000000000003" y="223.0" font-size="6.2" text-anchor="end" font-weight="normal" fill="#4a4a4a" letter-spacing="0.1">60%</text>
<line x1="433.0" y1="213.55" x2="435.8" y2="213.55" stroke="#222" stroke-width="1.0" />
<text x="430.40000000000003" y="215.75" font-size="6.2" text-anchor="end" font-weight="normal" fill="#4a4a4a" letter-spacing="0.1">70%</text>
<line x1="433.0" y1="206.3" x2="435.8" y2="206.3" stroke="#222" stroke-width="1.0" />
<text x="430.40000000000003" y="208.5" font-size="6.2" text-anchor="end" font-weight="normal" fill="#4a4a4a" letter-spacing="0.1">80%</text>
<line x1="433.0" y1="199.05" x2="435.8" y2="199.05" stroke="#222" stroke-width="1.0" />
<text x="430.40000000000003" y="201.25" font-size="6.2" text-anchor="end" font-weight="normal" fill="#4a4a4a" letter-spacing="0.1">90%</text>
<line x1="433.0" y1="191.8" x2="435.8" y2="191.8" stroke="#222" stroke-width="1.0" />
<text x="430.40000000000003" y="194.0" font-size="6.2" text-anchor="end" font-weight="normal" fill="#4a4a4a" letter-spacing="0.1">100%</text>
<rect x="445.35" y="208.83" width="6.50" height="56.17" fill="#cc0a2c" stroke="#8e0a22" stroke-width="0.7"/>
<rect x="455.35" y="201.58" width="6.50" height="63.42" fill="#1c4e8e" stroke="#0f315e" stroke-width="0.7"/>
<rect x="480.05" y="222.60" width="6.60" height="42.40" fill="#cc0a2c" stroke="#8e0a22" stroke-width="0.7"/>
<rect x="490.15" y="213.90" width="6.70" height="51.10" fill="#1c4e8e" stroke="#0f315e" stroke-width="0.7"/>
<text x="447.8" y="206.27500000000003" font-size="6.1" text-anchor="middle" font-weight="normal" fill="#3c3c3c" >77%</text>
<text x="458.5" y="199.02500000000003" font-size="6.1" text-anchor="middle" font-weight="normal" fill="#3c3c3c" >87%</text>
<text x="482.1" y="220.05" font-size="6.1" text-anchor="middle" font-weight="normal" fill="#3c3c3c" >58%</text>
<text x="493.4" y="211.35000000000002" font-size="6.1" text-anchor="middle" font-weight="normal" fill="#3c3c3c" >70%</text>
<text x="443.5" y="190.7" font-size="6.1" fill="#262626"><tspan font-style="italic">P</tspan> = .13</text>
<text x="480.3" y="203.8" font-size="6.1" fill="#262626"><tspan font-style="italic">P</tspan> = .1</text>
<line x1="453.6" y1="265.4" x2="453.6" y2="267.6" stroke="#222" stroke-width="1.0" />
<text x="453.6" y="276.4" font-size="6.4" text-anchor="middle" font-weight="normal" fill="#444" >ORR</text>
<line x1="488.5" y1="265.4" x2="488.5" y2="267.6" stroke="#222" stroke-width="1.0" />
<text x="488.5" y="276.4" font-size="6.4" text-anchor="middle" font-weight="normal" fill="#444" >CR</text>
</svg></div></body></html>
